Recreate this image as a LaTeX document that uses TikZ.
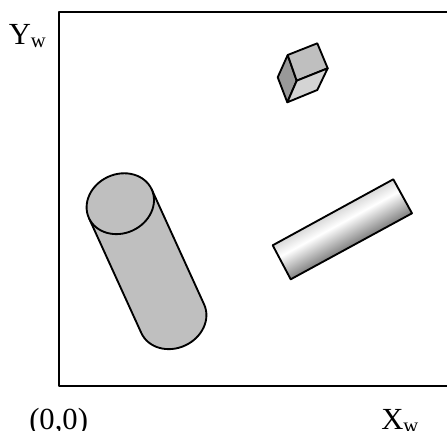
\documentclass[tikz,border=0pt]{standalone}
\usepackage{fontspec}
\setmainfont{Liberation Serif}
\usepackage{xcolor}
\definecolor{solidgray}{gray}{0.75}
\pgfdeclareverticalshading{barfill}{100bp}{color(0bp)=(black!50); color(25bp)=(black!50); color(58bp)=(white); color(75bp)=(black!15); color(100bp)=(black!15)}
\newcommand{\subw}{\raisebox{-2.8pt}{\fontsize{15.5}{15.5}\selectfont w}}
\begin{document}
\begin{tikzpicture}[
    x=0.75pt, y=0.75pt,
    % outlines of the objects
    outline/.style={draw=black, line width=1.4pt, line join=round},
    % axis labels
    axislabel/.style={inner sep=0pt, anchor=base west, font=\fontsize{23}{23}\selectfont}
]
\useasboundingbox (0,0) rectangle (447,430);

% frame
\draw[outline] (447,44) -- (59,44) -- (59,417.7) -- (447,417.7);

% labels
\node[axislabel] (ylabel) at (8.5,386) {Y\subw};
\node[axislabel] (xlabel) at (381,1) {X\subw};
\node[axislabel] (origin) at (29,1) {(0,0)};

% cylinder
\begin{scope}[shift={(120.3,226.3)}, rotate=24.5]
    \filldraw[outline, fill=solidgray] (-34.5,0) -- (-34.5,-126.4)
        arc[start angle=180, end angle=360, x radius=34.5, y radius=29.5] -- (34.5,0) -- cycle;
    \filldraw[outline, fill=solidgray] (0,0) ellipse[x radius=34.5, y radius=29.5];
\end{scope}

% bar
\coordinate (bara) at (272.7,184.7);
\coordinate (barb) at (393.3,250.7);
\coordinate (barc) at (412,216.7);
\coordinate (bard) at (290.7,150.7);
\shade[shading=barfill, transform canvas={shift={(342.35,200.7)}, rotate=28.7}] (-68.75,-19.4) rectangle (68.75,19.4);
\draw[outline] (bara) -- (barb) -- (barc) -- (bard) -- cycle;

% cube
\coordinate (cubea) at (287.7,375);
\coordinate (cubeb) at (317.3,386.7);
\coordinate (cubec) at (327.7,361.7);
\coordinate (cubed) at (296.7,349.3);
\coordinate (cubee) at (287.3,327.7);
\coordinate (cubef) at (277.7,352.7);
\coordinate (cubeg) at (317.3,340);
\filldraw[outline, fill=black!40] (cubea) -- (cubed) -- (cubee) -- (cubef) -- cycle;
\filldraw[outline, fill=solidgray] (cubea) -- (cubeb) -- (cubec) -- (cubed) -- cycle;
\filldraw[outline, fill=black!17] (cubed) -- (cubec) -- (cubeg) -- (cubee) -- cycle;
\end{tikzpicture}
\end{document}
